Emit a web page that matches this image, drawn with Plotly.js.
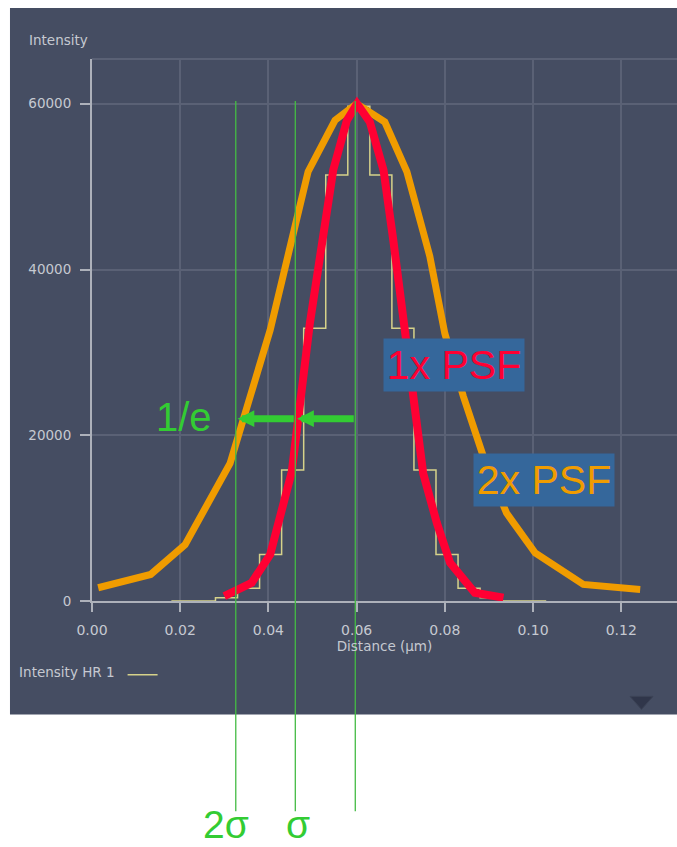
<!DOCTYPE html>
<html>
<head>
<meta charset="utf-8">
<script src="https://cdn.plot.ly/plotly-3.0.1.min.js"></script>
<style>html,body{margin:0;padding:0;background:#fff;}#chart{width:677px;height:847px;}</style>
</head>
<body>
<div id="chart"></div>
<script>
// ---- data ----
// measured step profile ("Intensity HR 1")
const stepX = [0.018,0.023,0.028,0.033,0.038,0.043,0.048,0.053,0.058,0.063,0.068,0.073,0.078,0.083,0.088,0.093,0.098,0.103];
const stepY = [0,0,400,1550,5600,15800,32900,51400,59700,51400,32900,15800,5600,1550,400,0,0,0];
// 2x PSF (orange)
const psf2X = [0.0014,0.0133,0.0211,0.0313,0.0404,0.0460,0.0490,0.0551,0.0600,0.0664,0.0714,0.0766,0.0800,0.0842,0.0887,0.0940,0.1005,0.1114,0.1243];
const psf2Y = [1600,3200,6800,16600,32700,45600,51800,58000,60000,57800,51800,41600,32300,24700,17500,10600,5800,2000,1400];
// 1x PSF (red)
const psf1X = [0.0300,0.0362,0.0404,0.0453,0.0494,0.0521,0.0547,0.0578,0.0601,0.0630,0.0661,0.0683,0.0706,0.0729,0.0751,0.0782,0.0812,0.0868,0.0933];
const psf1Y = [600,2200,5600,15600,33500,43600,52000,58000,60000,57800,52000,43600,33500,23500,15400,9400,4600,1000,400];
// sigma marker positions (2σ, σ, centre) and 1/e level
const markerX = [0.0326, 0.0461, 0.0597];
const markerLabels = ['2σ', 'σ'];
const oneOverE = 22000;
// axis ticks
const xTicks = [0, 0.02, 0.04, 0.06, 0.08, 0.10, 0.12];
const yTicks = [0, 20000, 40000, 60000];

// ---- styling constants ----
const PANEL = '#454d62';
const GRID = '#5a6175';
const AXIS = '#adb1ba';
const TXT = '#c5c9d1';
const GREEN = '#33cc33';
const LINEGREEN = '#44bb44';
const lblFont = {family: 'DejaVu Sans, sans-serif', size: 13.5, color: TXT};
const bigFont = function (c) { return {family: 'Arial, Liberation Sans, sans-serif', size: 41, color: c}; };

const traces = [
  {x: stepX, y: stepY, type: 'scatter', mode: 'lines', line: {shape: 'hv', color: '#d6d28a', width: 1.5},
   name: '', showlegend: true, hoverinfo: 'skip'},
  {x: psf2X, y: psf2Y, type: 'scatter', mode: 'lines', line: {color: '#f09c00', width: 7},
   showlegend: false, hoverinfo: 'skip'},
  {x: psf1X, y: psf1Y, type: 'scatter', mode: 'lines', line: {color: '#ff0033', width: 8},
   showlegend: false, hoverinfo: 'skip'}
];

const shapes = [
  // dark panel
  {type: 'rect', xref: 'paper', yref: 'paper', x0: -0.1402, x1: 1.0, y0: -0.2092, y1: 1.094,
   fillcolor: PANEL, line: {width: 0}, layer: 'below'},
  // top border of plot area
  {type: 'line', xref: 'paper', yref: 'paper', x0: 0, x1: 1, y0: 1, y1: 1,
   line: {color: GRID, width: 2}, layer: 'below'},
  // small menu triangle
  {type: 'path', xref: 'paper', yref: 'paper', path: 'M0.9197,-0.176 L0.959,-0.176 L0.9393,-0.2 Z',
   fillcolor: '#30364a', line: {color: '#3c4356', width: 1}, layer: 'below'}
];
markerX.forEach(function (mx) {
  shapes.push({type: 'line', xref: 'x', yref: 'paper', x0: mx, x1: mx, y0: -0.388, y1: 0.9226,
    line: {color: LINEGREEN, width: 1.3}, layer: 'above'});
});

const annotations = [
  {text: 'Intensity', xref: 'paper', yref: 'paper', x: -0.1106, y: 1.035, xanchor: 'left', yanchor: 'middle',
   showarrow: false, font: lblFont},
  {text: '1x PSF', xref: 'x', yref: 'y', x: 0.0821, y: 28500, xanchor: 'center', yanchor: 'middle',
   width: 140, height: 52, borderpad: 0, bgcolor: '#35679b', showarrow: false, font: bigFont('#ff0033')},
  {text: '2x PSF', xref: 'x', yref: 'y', x: 0.1025, y: 14650, xanchor: 'center', yanchor: 'middle',
   width: 140, height: 52, borderpad: 0, bgcolor: '#35679b', showarrow: false, font: bigFont('#f09c00')},
  {text: '1/e', xref: 'x', yref: 'y', x: 0.0209, y: 22180, xanchor: 'center', yanchor: 'middle',
   showarrow: false, font: {family: 'Arial, Liberation Sans, sans-serif', size: 40, color: GREEN}},
  // arrows centre -> σ -> 2σ at 1/e level
  {text: '', xref: 'x', yref: 'y', axref: 'x', ayref: 'y', x: markerX[1] + 0.0004, y: oneOverE,
   ax: markerX[2], ay: oneOverE, showarrow: true, arrowhead: 2, arrowsize: 0.48, arrowwidth: 7,
   arrowcolor: GREEN, standoff: 0},
  {text: '', xref: 'x', yref: 'y', axref: 'x', ayref: 'y', x: markerX[0] + 0.0004, y: oneOverE,
   ax: markerX[1], ay: oneOverE, showarrow: true, arrowhead: 2, arrowsize: 0.48, arrowwidth: 7,
   arrowcolor: GREEN, standoff: 0},
  {text: markerLabels[0], xref: 'paper', yref: 'paper', x: 0.2291, y: -0.4128, xanchor: 'center', yanchor: 'middle',
   showarrow: false, font: {family: 'Arial, Liberation Sans, sans-serif', size: 39, color: GREEN}},
  {text: markerLabels[1], xref: 'paper', yref: 'paper', x: 0.3521, y: -0.4128, xanchor: 'center', yanchor: 'middle',
   showarrow: false, font: {family: 'Arial, Liberation Sans, sans-serif', size: 39, color: GREEN}}
];

const layout = {
  width: 677, height: 847,
  margin: {l: 92, r: 0, t: 59, b: 245.5, pad: 0},
  paper_bgcolor: '#ffffff',
  plot_bgcolor: 'rgba(0,0,0,0)',
  hovermode: false,
  showlegend: true,
  legend: {
    x: -0.128, xanchor: 'left', y: -0.1364, yanchor: 'middle', orientation: 'h',
    bgcolor: 'rgba(0,0,0,0)', borderwidth: 0, font: lblFont,
    title: {text: 'Intensity HR 1', side: 'left', font: lblFont}
  },
  xaxis: {
    range: [0, 0.13265], tickvals: xTicks, tickformat: '.2f',
    showgrid: true, gridcolor: GRID, gridwidth: 2, zeroline: false,
    showline: true, linecolor: AXIS, linewidth: 2,
    ticks: 'outside', ticklen: 9, tickwidth: 2, tickcolor: AXIS, ticklabelstandoff: 6,
    tickfont: {family: 'DejaVu Sans, sans-serif', size: 14, color: TXT},
    title: {text: 'Distance (µm)', font: lblFont, standoff: 5}
  },
  yaxis: {
    range: [0, 65400], tickvals: yTicks, tickformat: 'd',
    showgrid: true, gridcolor: GRID, gridwidth: 2, zeroline: false,
    showline: true, linecolor: AXIS, linewidth: 2,
    ticks: 'outside', ticklen: 10, tickwidth: 2, tickcolor: AXIS, ticklabelstandoff: 6,
    tickfont: {family: 'DejaVu Sans, sans-serif', size: 13.5, color: TXT}
  },
  shapes: shapes,
  annotations: annotations
};

Plotly.newPlot('chart', traces, layout, {staticPlot: true, displayModeBar: false});
</script>
</body>
</html>
